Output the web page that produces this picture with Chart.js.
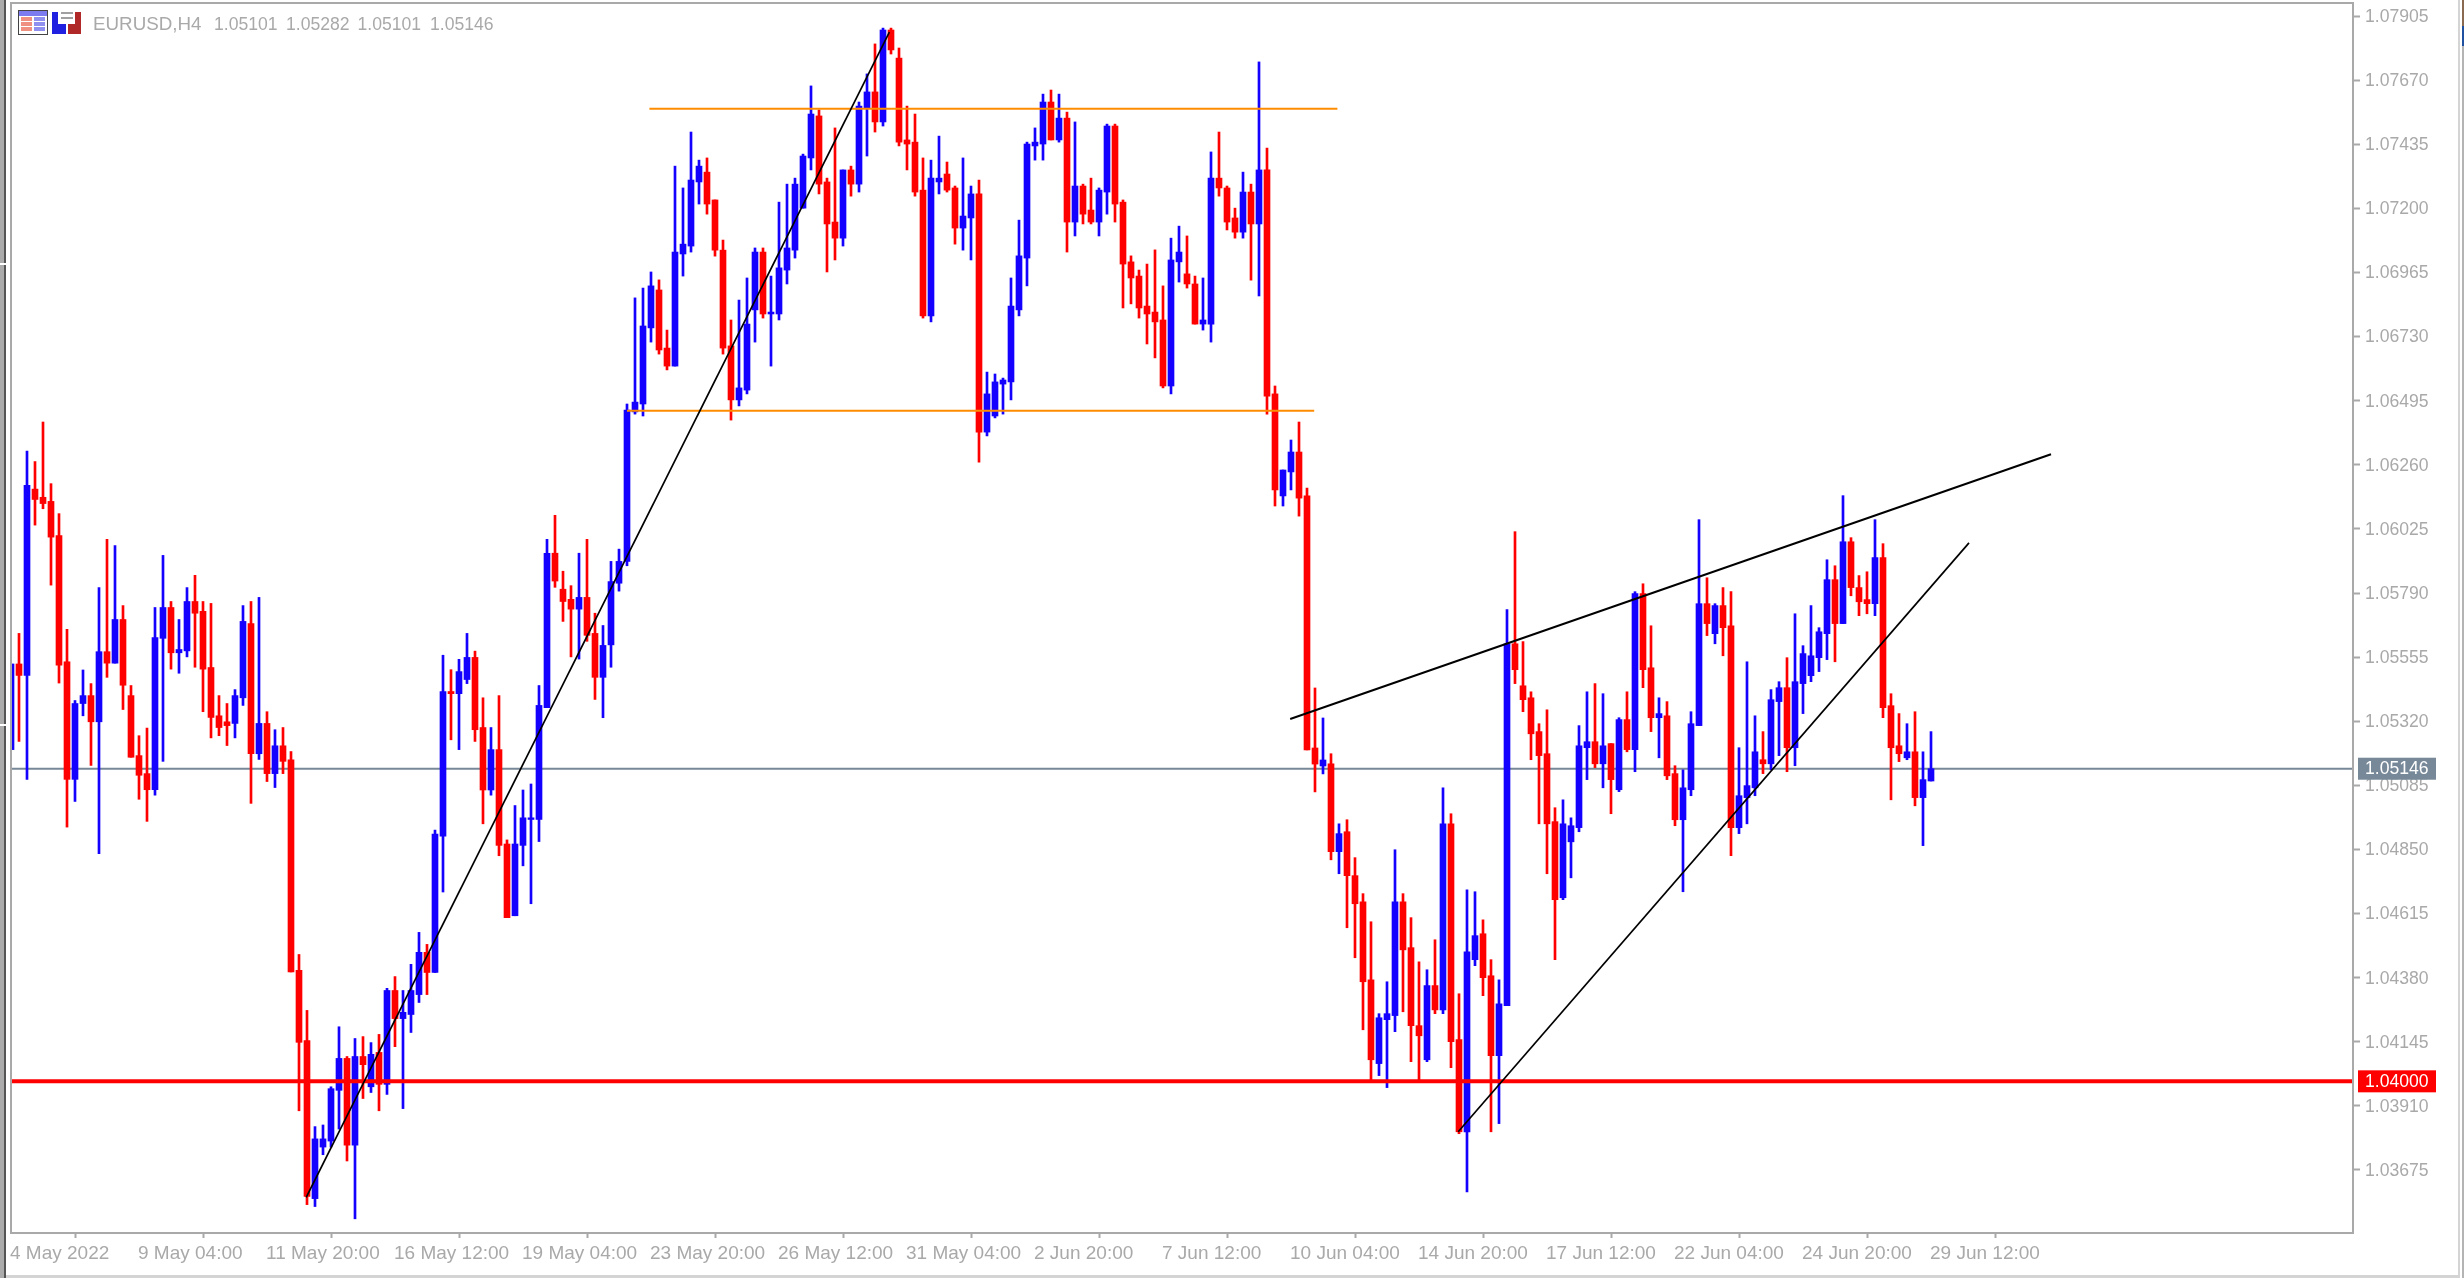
<!DOCTYPE html>
<html>
<head>
<meta charset="utf-8">
<title>EURUSD,H4</title>
<script src="https://cdn.jsdelivr.net/npm/chart.js@4/dist/chart.umd.min.js"></script>
<style>
  html, body { margin:0; padding:0; background:#fff; }
  canvas { display:block; }
</style>
</head>
<body>
<canvas id="chart" width="2464" height="1278"></canvas>
<script>
// ── Data (prices in 1e-5 points) ──────────────────────────────────────────────
const opens = [
  105216,105530,105488,106171,106141,106126,106001,105538,105107,105385,
  105414,105318,105575,105533,105693,105414,105194,105128,105069,105624,
  105737,105571,105578,105759,105723,105517,105340,105318,105312,105406,
  105678,105201,105312,105128,105230,105179,104407,104149,103570,103759,
  103781,103967,104084,103766,104091,103980,104106,103989,104333,104230,
  104245,104318,104473,104399,104899,105429,105421,105473,105554,105297,
  105068,105216,104870,104607,104865,104960,104960,105370,105936,105804,
  105767,105731,105774,105642,105481,105600,105826,105906,106454,106483,
  106762,106901,106688,106622,107033,107062,107297,107333,107231,107047,
  106696,106498,106534,106828,107040,106813,106813,106974,107047,107201,
  107385,107539,107297,107150,107091,107341,107289,107568,107627,107517,
  107854,107751,107451,107443,107267,106806,107297,107326,107275,107128,
  107165,107253,106380,106439,106556,106564,106828,107018,107429,107436,
  107590,107451,107531,107150,107282,107194,107150,107260,107502,107223,
  107004,106952,106842,106820,106791,106549,107004,106960,106923,106776,
  106776,107311,107275,107165,107113,107260,107143,107341,106520,106146,
  106234,106307,106146,105222,105156,105164,104842,104915,104754,104658,
  104372,104065,104226,104241,104658,104490,104204,104079,104351,104262,
  104944,104153,103815,104446,104541,104387,104094,104277,105604,105450,
  105406,105282,105201,104952,104673,104878,104930,105223,105245,105164,
  105238,105069,105326,105216,105788,105516,105333,105340,105128,104959,
  105069,105304,105751,105641,105744,105670,104930,105040,105076,105179,
  105164,105392,105443,105223,105458,105487,105553,105641,105839,105678,
  105978,105810,105766,105751,105920,105377,105230,105186,105208,105040,
  105101
];
const highs = [
  105530,105642,106310,106272,106417,106191,106081,105657,105396,105508,
  105458,105810,105987,105964,105744,105451,105267,105295,105737,105928,
  105759,105693,105810,105855,105759,105752,105414,105385,105436,105744,
  105759,105774,105355,105289,105297,105209,104465,104260,103834,103840,
  103980,104200,104091,104157,104164,104142,104172,104341,104384,104333,
  104429,104546,104502,104921,105562,105509,105547,105642,105577,105406,
  105297,105414,104885,105011,105068,105090,105451,105987,106075,105870,
  105817,105936,105987,105716,105671,105906,105951,106483,106872,106908,
  106967,106938,106754,107355,107275,107480,107377,107385,107231,107084,
  106791,106864,106945,107055,107055,106952,107223,107289,107311,107399,
  107649,107561,107311,107495,107341,107355,107590,107693,107803,107861,
  107861,107788,107575,107546,107385,107377,107465,107370,107282,107385,
  107282,107304,106600,106593,106578,106945,107157,107443,107495,107619,
  107634,107619,107553,107517,107289,107311,107275,107509,107509,107231,
  107026,106974,106996,107048,106916,107091,107135,107099,106952,106945,
  107407,107480,107282,107201,107333,107289,107737,107421,106549,106241,
  106351,106417,106175,105442,105332,105201,104944,104959,104820,104688,
  104585,104248,104365,104849,104688,104600,104438,104409,104519,105076,
  104981,104321,104702,104695,104592,104446,104372,105729,106015,105612,
  105428,105311,105362,105003,105032,104966,105304,105428,105458,105421,
  105238,105333,105428,105795,105824,105670,105406,105392,105157,105142,
  105355,106059,105846,105751,105810,105795,105223,105538,105340,105282,
  105436,105465,105553,105714,105597,105744,105663,105912,105890,106147,
  105993,105854,105868,106059,105971,105421,105348,105311,105355,105208,
  105282
];
const lows = [
  105216,105246,105107,106039,106099,105819,105460,104932,105026,105340,
  105158,104835,105481,105533,105363,105188,105034,104953,105049,105173,
  105511,105496,105556,105518,105355,105259,105267,105231,105259,105378,
  105019,105180,105099,105077,105128,104401,103892,103548,103541,103731,
  103759,103825,103708,103496,103937,103959,103892,103952,104127,103900,
  104179,104289,104318,104399,104694,105252,105216,105458,105246,104944,
  105049,104827,104600,104607,104790,104651,104879,105370,105811,105686,
  105556,105548,105613,105400,105333,105518,105797,105890,106446,106439,
  106710,106666,106608,106622,106952,107040,107216,107179,107025,106666,
  106424,106476,106520,106710,106798,106622,106791,106923,107018,107201,
  107341,107253,106967,107011,107062,107245,107260,107392,107480,107502,
  107766,107429,107341,107245,106798,106784,107253,107260,107069,107047,
  107011,106270,106366,106432,106446,106498,106806,106916,107377,107377,
  107451,107443,107040,107099,107143,107143,107099,107179,107150,106835,
  106850,106798,106703,106652,106542,106520,106930,106908,106776,106754,
  106710,107245,107121,107091,107091,106937,106879,106446,106109,106109,
  106168,106072,105215,105061,105127,104812,104761,104563,104453,104189,
  104006,104021,103977,104182,104255,104072,104006,104072,104248,104248,
  104050,103808,103595,104424,104314,103815,103845,104277,105458,105355,
  105179,104944,104761,104446,104666,104746,104915,105106,105150,105076,
  104981,105062,105208,105135,105443,105282,105186,105106,104937,104695,
  105047,105304,105634,105604,105560,104827,104908,104944,105047,105128,
  105142,105194,105135,105157,105348,105465,105502,105546,105538,105678,
  105780,105707,105714,105707,105333,105032,105172,105179,105010,104864,
  105101
];
const closes = [
  105530,105488,106185,106133,106118,105995,105526,105107,105385,105414,
  105318,105575,105533,105693,105452,105188,105122,105069,105627,105737,
  105571,105583,105759,105716,105511,105334,105297,105304,105414,105686,
  105201,105312,105128,105230,105173,104401,104143,103578,103789,103789,
  103973,104084,103766,104091,104061,104099,103989,104333,104230,104253,
  104333,104473,104399,104906,105429,105421,105502,105554,105289,105068,
  105216,104865,104600,104870,104966,104966,105378,105936,105834,105759,
  105731,105774,105635,105481,105598,105832,105906,106461,106490,106769,
  106916,106681,106622,107040,107069,107304,107355,107216,107047,106688,
  106498,106542,106776,107040,106813,106820,106982,107055,107289,107392,
  107546,107289,107143,107091,107341,107289,107575,107627,107517,107854,
  107781,107443,107436,107260,106806,107311,107311,107267,107128,107172,
  107253,106380,106520,106564,106571,106842,107026,107436,107443,107590,
  107451,107531,107150,107282,107179,107150,107267,107502,107216,106996,
  106945,106835,106813,106784,106549,107011,107040,106923,106776,106791,
  107311,107275,107150,107113,107260,107143,107341,106512,106168,106241,
  106307,106138,105215,105163,105178,104842,104908,104754,104651,104365,
  104079,104233,104248,104658,104482,104204,104167,104351,104262,104944,
  104145,103815,104475,104534,104380,104094,104284,105604,105509,105399,
  105274,105194,104944,104666,104944,104937,105230,105245,105164,105230,
  105106,105326,105216,105788,105509,105333,105348,105120,104959,105076,
  105311,105751,105678,105744,105663,104930,105047,105084,105208,105164,
  105399,105443,105223,105465,105568,105560,105648,105839,105678,105978,
  105810,105758,105751,105920,105370,105223,105201,105208,105040,105106,
  105146
];

const timeLabels = ["4 May 2022","9 May 04:00","11 May 20:00","16 May 12:00","19 May 04:00","23 May 20:00",
  "26 May 12:00","31 May 04:00","2 Jun 20:00","7 Jun 12:00","10 Jun 04:00","14 Jun 20:00",
  "17 Jun 12:00","22 Jun 04:00","24 Jun 20:00","29 Jun 12:00"];
const timeTickBars = [0,16,32,48,64,80,96,112,128,144,160,176,192,208,224,240];
const priceTicks = [1.07905,1.07670,1.07435,1.07200,1.06965,1.06730,1.06495,1.06260,1.06025,1.05790,
  1.05555,1.05320,1.05085,1.04850,1.04615,1.04380,1.04145,1.03910,1.03675];

const lastPrice   = 1.05146;
const redLevel    = 1.04000;
const orangeHigh  = [[79.8,1.07565],[165.8,1.07565]];
const orangeLow   = [[77,1.06458],[162.9,1.06458]];
const riseLine    = [[36.9,1.03575],[109.8,1.07846]];
const wedgeTop    = [[159.9,1.05328],[255,1.06299]];
const wedgeBottom = [[180.9,1.03815],[244.75,1.05974]];
const headerText  = ["EURUSD,H4","1.05101","1.05282","1.05101","1.05146"];
const headerX     = [93,214,286,357.5,430];

// ── Colours ───────────────────────────────────────────────────────────────────
const UP = "#1400ff", DOWN = "#ff0000", GREY = "#a9a9a9", BID = "#778899", ORANGE = "#ff8c00";
const FONT = "'Liberation Sans', Arial, sans-serif";

const barColors = closes.map((c, i) => c >= opens[i] ? UP : DOWN);
const pts = arr => arr.map(([x, y]) => ({ x, y }));
const BAR_MAX = 292.75;

function lineSet(points, color, width, order) {
  return { type:"line", data:pts(points), borderColor:color, borderWidth:width,
           pointRadius:0, fill:false, tension:0, order };
}

// ── Frame, price tags and header, things Chart.js has no element for ──────────
const chrome = {
  id: "chrome",
  afterDatasetsDraw(chart) {
    const { ctx, chartArea:a } = chart;
    ctx.save();
    ctx.strokeStyle = GREY; ctx.lineWidth = 2;
    ctx.strokeRect(a.left, a.top, a.right - a.left, a.bottom - a.top);
    ctx.restore();
  },
  afterDraw(chart) {
    const { ctx, scales } = chart;
    ctx.save();
    // window edges
    ctx.fillStyle = "#ababab"; ctx.fillRect(0, 0, 4, 1278);
    ctx.fillStyle = "#555555"; ctx.fillRect(4, 0, 2, 1278);
    ctx.fillStyle = "#ffffff"; ctx.fillRect(0, 263, 6, 2); ctx.fillRect(0, 724, 6, 2);
    ctx.fillStyle = "#d4d4d4"; ctx.fillRect(6, 1275, 2452, 3); ctx.fillRect(2458, 0, 2, 1278);
    ctx.fillStyle = "#b4b4b4"; ctx.fillRect(2462, 0, 2, 1278);
    ctx.fillStyle = "#8a6a50"; ctx.fillRect(2462, 0, 2, 26);
    ctx.fillStyle = "#2050a0"; ctx.fillRect(2462, 26, 2, 20);
    // price tags
    ctx.textBaseline = "middle"; ctx.textAlign = "left";
    ctx.font = "17.6px " + FONT;
    [[lastPrice, BID, "1.05146"], [redLevel, DOWN, "1.04000"]].forEach(([v, col, txt]) => {
      const y = scales.y.getPixelForValue(v);
      ctx.fillStyle = col; ctx.fillRect(2358, y - 11, 78, 22);
      ctx.fillStyle = "#ffffff"; ctx.fillText(txt, 2365, y + 0.5);
    });
    // header icons
    ctx.fillStyle = "#444444"; ctx.fillRect(18, 10, 30, 25);
    ctx.fillStyle = "#7c7cf0"; ctx.fillRect(19, 11, 28, 5);
    ctx.fillStyle = "#ffffff"; ctx.fillRect(19, 16, 28, 18);
    [17, 22, 27].forEach(y => {
      ctx.fillStyle = "#f09080"; ctx.fillRect(21, y, 11, 4);
      ctx.fillStyle = "#9090f0"; ctx.fillRect(34, y, 11, 4);
    });
    ctx.fillStyle = "#2020e0"; ctx.fillRect(52, 12, 6, 22); ctx.fillRect(52, 24, 14, 10);
    ctx.fillStyle = "#b02828"; ctx.fillRect(75, 12, 6, 22); ctx.fillRect(68, 24, 13, 10);
    ctx.fillStyle = "#a0a0a0"; ctx.fillRect(61, 12, 12, 2); ctx.fillRect(61, 17, 12, 2);
    // header text
    ctx.fillStyle = GREY; ctx.textBaseline = "alphabetic";
    headerText.forEach((t, i) => {
      ctx.font = (i === 0 ? "18.8px " : "17.6px ") + FONT;
      ctx.fillText(t, headerX[i], 30);
    });
    ctx.restore();
  }
};

// ── Chart ─────────────────────────────────────────────────────────────────────
new Chart(document.getElementById("chart").getContext("2d"), {
  type: "bar",
  data: {
    datasets: [
      lineSet([[0,lastPrice],[BAR_MAX,lastPrice]], BID, 2, 6),
      { label:"wicks", data: highs.map((h, i) => ({ x:i, y:[lows[i]/1e5, h/1e5] })),
        backgroundColor:barColors, barThickness:2, grouped:false, borderSkipped:false, order:5 },
      { label:"bodies", data: opens.map((o, i) => ({ x:i, y:[o/1e5, closes[i]/1e5] })),
        backgroundColor:barColors, barThickness:6, grouped:false, borderSkipped:false, minBarLength:1, order:4 },
      lineSet([[0,redLevel],[BAR_MAX,redLevel]], DOWN, 4, 3),
      lineSet(orangeHigh, ORANGE, 2, 3),
      lineSet(orangeLow, ORANGE, 2, 3),
      lineSet(riseLine, "#000000", 1.7, 1),
      lineSet(wedgeTop, "#000000", 2, 1),
      lineSet(wedgeBottom, "#000000", 1.7, 1)
    ]
  },
  options: {
    responsive:false, animation:false, devicePixelRatio:1,
    layout: { padding:{ left:11, top:3, right:0, bottom:0 } },
    plugins: { legend:{ display:false }, tooltip:{ enabled:false } },
    events: [],
    scales: {
      x: {
        type:"linear", min:0, max:BAR_MAX, offset:false,
        border:{ display:false },
        grid:{ display:true, drawOnChartArea:false, drawTicks:true, tickLength:5, tickWidth:2, tickColor:GREY },
        afterBuildTicks(s) { s.ticks = timeTickBars.map(v => ({ value:v })); },
        afterFit(s) { s.height = 45; s.paddingLeft = s.paddingRight = s.paddingTop = s.paddingBottom = 0; },
        ticks: {
          autoSkip:false, maxRotation:0, minRotation:0, align:"start", padding:4, labelOffset:-1,
          color:GREY, font:{ family:FONT, size:19 },
          callback: v => timeLabels[timeTickBars.indexOf(v)]
        }
      },
      y: {
        type:"linear", position:"right", min:1.03444, max:1.07953,
        border:{ display:false },
        grid:{ display:true, drawOnChartArea:false, drawTicks:true, tickLength:7, tickWidth:2, tickColor:GREY },
        afterBuildTicks(s) { s.ticks = priceTicks.map(v => ({ value:v })); },
        afterFit(s) { s.width = 111; s.paddingLeft = s.paddingRight = s.paddingTop = s.paddingBottom = 0; },
        ticks: {
          autoSkip:false, padding:5, labelOffset:1, color:GREY, font:{ family:FONT, size:17.6 },
          callback: v => v.toFixed(5)
        }
      }
    }
  },
  plugins: [chrome]
});
</script>
</body>
</html>
